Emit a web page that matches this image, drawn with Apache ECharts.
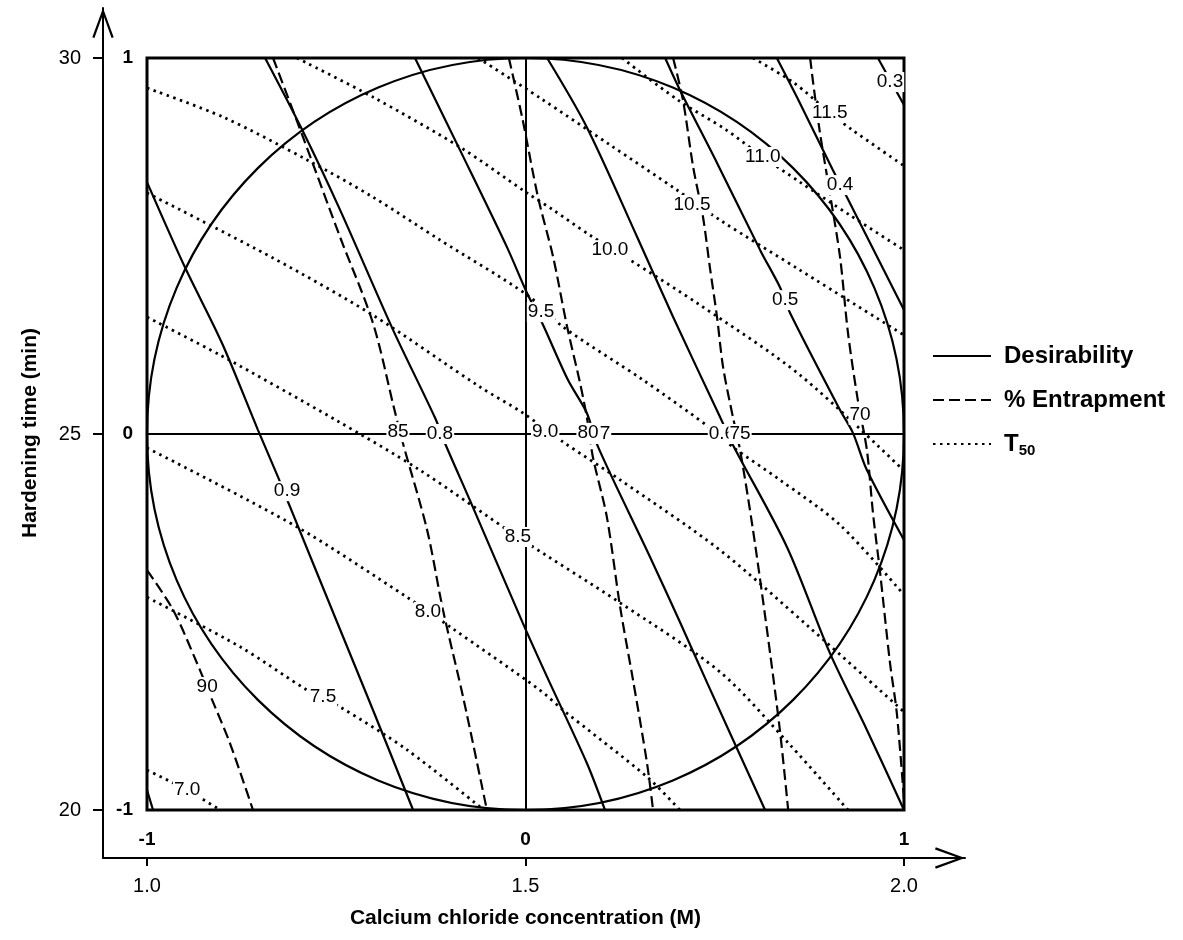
<!DOCTYPE html>
<html>
<head>
<meta charset="utf-8">
<script src="https://cdn.jsdelivr.net/npm/echarts@6/dist/echarts.min.js"></script>
<style>
html, body { margin: 0; padding: 0; background: #fff; }
#chart { width: 1183px; height: 940px; }
</style>
</head>
<body>
<div id="chart"></div>
<script>
// axis ticks
var codedTicks = [-1, 0, 1];
var concTicks = [1.0, 1.5, 2.0];
var timeTicks = [20, 25, 30];

// design region (coded units)
var designCenter = [0, 0];
var designRadius = 1;

// Desirability contours (coded x, coded y)
var d10 = [[-1, -0.947], [-0.984, -1]];
var d09 = [[-1, 0.670], [-0.900, 0.444], [-0.802, 0.242], [-0.707, 0.011], [-0.654, -0.114], [-0.622, -0.194], [-0.498, -0.500], [-0.403, -0.734], [-0.297, -1]];
var d08 = [[-0.688, 1], [-0.590, 0.809], [-0.490, 0.596], [-0.350, 0.277], [-0.239, 0.043], [-0.213, -0.024], [-0.147, -0.176], [-0.007, -0.503], [0.057, -0.646], [0.162, -0.875], [0.210, -1]];
var d07 = [[-0.292, 1], [-0.173, 0.755], [-0.049, 0.497], [0.004, 0.375], [0.044, 0.295], [0.112, 0.144], [0.162, 0.056], [0.192, -0.035], [0.329, -0.327], [0.408, -0.500], [0.480, -0.662], [0.633, -1]];
var d06 = [[0.057, 1], [0.162, 0.816], [0.295, 0.524], [0.390, 0.311], [0.514, 0.045], [0.548, -0.029], [0.691, -0.301], [0.804, -0.582], [0.902, -0.787], [1, -1]];
var d05 = [[0.369, 1], [0.408, 0.915], [0.506, 0.721], [0.620, 0.489], [0.672, 0.391], [0.699, 0.322], [0.831, 0.064], [0.865, 0.003], [0.902, -0.096], [1, -0.282]];
var d04 = [[0.664, 1], [0.717, 0.896], [0.812, 0.702], [0.849, 0.630], [1, 0.330]];
var d03 = [[0.931, 1], [1, 0.875]];
var desirLabels = [[-0.630, -0.152, '0.9'], [-0.226, 0, '0.8'], [0.189, 0, '0.7'], [0.519, 0, '0.6'], [0.686, 0.356, '0.5'], [0.831, 0.662, '0.4'], [0.963, 0.936, '0.3']];

// % Entrapment contours
var e90 = [[-1, -0.362], [-0.931, -0.468], [-0.868, -0.609], [-0.828, -0.707], [-0.781, -0.822], [-0.720, -1]];
var e85 = [[-0.667, 1], [-0.588, 0.790], [-0.490, 0.524], [-0.403, 0.295], [-0.345, 0.059], [-0.324, -0.024], [-0.260, -0.255], [-0.218, -0.468], [-0.165, -0.699], [-0.102, -1]];
var e80 = [[-0.044, 1], [-0.009, 0.843], [0.033, 0.630], [0.073, 0.471], [0.110, 0.285], [0.144, 0.136], [0.162, 0.045], [0.178, -0.061], [0.215, -0.221], [0.250, -0.460], [0.284, -0.654], [0.321, -0.875], [0.337, -1]];
var e75 = [[0.390, 1], [0.416, 0.888], [0.443, 0.710], [0.469, 0.577], [0.487, 0.444], [0.506, 0.311], [0.522, 0.178], [0.548, 0.045], [0.567, -0.043], [0.601, -0.255], [0.638, -0.521], [0.672, -0.787], [0.694, -1]];
var e70 = [[0.752, 1], [0.760, 0.934], [0.778, 0.801], [0.804, 0.641], [0.831, 0.471], [0.852, 0.269], [0.878, 0.090], [0.902, -0.043], [0.918, -0.210], [0.937, -0.370], [0.963, -0.609], [0.981, -0.742], [1, -0.973]];
var entrapLabels = [[-0.841, -0.673, '90'], [-0.337, 0.005, '85'], [0.165, 0.003, '80'], [0.567, 0, '75'], [0.884, 0.051, '70']];

// T50 contours
var t70 = [[-1, -0.894], [-0.894, -0.947], [-0.807, -1]];
var t75 = [[-1, -0.434], [-0.754, -0.566], [-0.577, -0.681], [-0.490, -0.726], [-0.313, -0.840], [-0.110, -1]];
var t80 = [[-1, -0.037], [-0.604, -0.247], [-0.313, -0.434], [-0.199, -0.513], [0.038, -0.681], [0.099, -0.734], [0.321, -0.912], [0.408, -1]];
var t85 = [[-1, 0.311], [-0.807, 0.210], [-0.501, 0.037], [-0.279, -0.096], [-0.020, -0.274], [0.250, -0.449], [0.514, -0.633], [0.699, -0.827], [0.852, -1]];
var t90 = [[-1, 0.641], [-0.667, 0.468], [-0.403, 0.316], [-0.120, 0.125], [-0.007, 0.056], [0.099, -0.021], [0.250, -0.122], [0.514, -0.309], [0.752, -0.516], [1, -0.739]];
var t95 = [[-1, 0.920], [-0.799, 0.843], [-0.577, 0.729], [-0.403, 0.630], [-0.226, 0.516], [0.004, 0.370], [0.099, 0.285], [0.310, 0.144], [0.495, 0.011], [0.548, -0.035], [0.672, -0.122], [0.831, -0.242], [1, -0.428]];
var t100 = [[-0.604, 1], [-0.403, 0.896], [-0.173, 0.763], [0.004, 0.641], [0.073, 0.596], [0.170, 0.529], [0.276, 0.463], [0.461, 0.343], [0.725, 0.157], [1, -0.098]];
var t105 = [[-0.125, 1], [0.038, 0.894], [0.223, 0.769], [0.400, 0.649], [0.514, 0.569], [0.725, 0.436], [1, 0.263]];
var t110 = [[0.255, 1], [0.403, 0.888], [0.530, 0.809], [0.627, 0.737], [0.725, 0.670], [0.857, 0.582], [1, 0.489]];
var t115 = [[0.601, 1], [0.709, 0.934], [0.804, 0.854], [0.863, 0.809], [1, 0.713]];
var t50Labels = [[-0.894, -0.947, '7.0'], [-0.535, -0.699, '7.5'], [-0.258, -0.473, '8.0'], [-0.020, -0.274, '8.5'], [0.052, 0.005, '9.0'], [0.041, 0.324, '9.5'], [0.223, 0.489, '10.0'], [0.440, 0.609, '10.5'], [0.627, 0.737, '11.0'], [0.804, 0.854, '11.5']];

var font = '"Liberation Sans", Arial, sans-serif';

// layout: inner plot box and outer axes box (px)
var plot = { left: 147, top: 58, width: 757, height: 752 };
var outer = { left: 103, top: 8, right: 965, bottom: 858 };
var concPerPx = (concTicks[2] - concTicks[0]) / plot.width;
var timePerPx = (timeTicks[2] - timeTicks[0]) / plot.height;
var concMin = concTicks[0] - (plot.left - outer.left) * concPerPx;
var concMax = concTicks[2] + (outer.right - plot.left - plot.width) * concPerPx;
var timeMin = timeTicks[0] - (outer.bottom - plot.top - plot.height) * timePerPx;
var timeMax = timeTicks[2] + (plot.top - outer.top) * timePerPx;

var arrow = 'path://M11,0 L22,30 L19.8,30.8 L11,6.5 L2.2,30.8 L0,30 Z';

function contour(name, pts, type, width) {
    return {
        name: name,
        type: 'line',
        xAxisIndex: 0,
        yAxisIndex: 0,
        data: pts,
        symbol: 'none',
        smooth: 0.3,
        silent: true,
        z: 3,
        itemStyle: { color: '#000' },
        lineStyle: { color: '#000', width: width, type: type, cap: 'butt' }
    };
}

function labels(name, list, z) {
    return {
        name: name,
        type: 'scatter',
        xAxisIndex: 0,
        yAxisIndex: 0,
        symbolSize: 1,
        silent: true,
        z: z,
        itemStyle: { color: '#fff', opacity: 0 },
        data: list.map(function (l) { return { value: [l[0], l[1]], name: l[2] }; }),
        label: {
            show: true,
            position: 'inside',
            formatter: '{b}',
            color: '#000',
            opacity: 1,
            textBorderWidth: 0,
            textBorderColor: 'transparent',
            fontSize: 19,
            fontFamily: font,
            backgroundColor: '#fff',
            padding: [1, 1, 0, 1]
        }
    };
}

var series = [];
[d10, d09, d08, d07, d06, d05, d04, d03].forEach(function (l) {
    series.push(contour('Desirability', l, 'solid', 2.2));
});
[e90, e85, e80, e75, e70].forEach(function (l) {
    series.push(contour('% Entrapment', l, [11, 5], 2.2));
});
[t70, t75, t80, t85, t90, t95, t100, t105, t110, t115].forEach(function (l) {
    series.push(contour('T50', l, [2.5, 4.5], 2.8));
});

// coded zero lines
series[0].markLine = {
    silent: true,
    symbol: ['none', 'none'],
    label: { show: false },
    lineStyle: { color: '#000', width: 2, type: 'solid' },
    data: [{ xAxis: 0 }, { yAxis: 0 }]
};

// experimental design circle
series.push({
    name: 'design',
    type: 'custom',
    xAxisIndex: 0,
    yAxisIndex: 0,
    clip: false,
    silent: true,
    z: 3,
    data: [[designCenter[0], designCenter[1], designRadius]],
    renderItem: function (params, api) {
        var c = api.coord([api.value(0), api.value(1)]);
        var s = api.size([api.value(2), api.value(2)]);
        return {
            type: 'ellipse',
            shape: { cx: c[0], cy: c[1], rx: s[0], ry: s[1] },
            style: { fill: 'none', stroke: '#000', lineWidth: 2.2 }
        };
    }
});

series.push(labels('desirLabels', desirLabels, 10));
series.push(labels('entrapLabels', entrapLabels, 11));
series.push(labels('t50Labels', t50Labels, 12));

var chart = echarts.init(document.getElementById('chart'));
chart.setOption({
    animation: false,
    backgroundColor: '#fff',
    grid: [
        { left: plot.left, top: plot.top, width: plot.width, height: plot.height,
          show: true, borderColor: '#000', borderWidth: 3, backgroundColor: 'transparent', z: 4 },
        { left: outer.left, top: outer.top, width: outer.right - outer.left, height: outer.bottom - outer.top }
    ],
    legend: {
        data: ['Desirability', '% Entrapment', 'T50'],
        orient: 'vertical',
        left: 932,
        top: 342,
        padding: 0,
        itemWidth: 58,
        itemHeight: 14,
        itemGap: 16,
        selectedMode: false,
        itemStyle: { color: 'transparent', borderColor: 'transparent', borderWidth: 0, opacity: 0 },
        formatter: function (n) { return n === 'T50' ? '{t|T}{s|50}' : n; },
        textStyle: {
            fontFamily: font,
            fontSize: 24,
            fontWeight: 'bold',
            color: '#000',
            lineHeight: 28,
            padding: [0, 0, 0, 8],
            rich: {
                t: { fontFamily: font, fontSize: 24, fontWeight: 'bold', lineHeight: 28 },
                s: { fontFamily: font, fontSize: 15, fontWeight: 'bold', lineHeight: 14, verticalAlign: 'bottom' }
            }
        }
    },
    xAxis: [
        {
            gridIndex: 0, type: 'value', min: -1, max: 1, interval: 0.5,
            axisLine: { show: false },
            axisTick: { show: true, customValues: codedTicks, length: 8, lineStyle: { color: '#000', width: 2 } },
            axisLabel: { customValues: codedTicks, margin: 20, color: '#000', fontSize: 19, fontWeight: 'bold', fontFamily: font },
            splitLine: { show: true, showMinLine: false, showMaxLine: false, lineStyle: { color: '#d6d6d6', width: 1 } },
            name: 'Calcium chloride concentration (M)',
            nameLocation: 'middle',
            nameGap: 98,
            nameTextStyle: { color: '#000', fontSize: 21, fontWeight: 'bold', fontFamily: font }
        },
        {
            gridIndex: 1, type: 'value', min: concMin, max: concMax,
            axisLine: { show: true, onZero: false, symbol: ['none', arrow], symbolSize: [22, 30], symbolOffset: [0, -15],
                        lineStyle: { color: '#000', width: 2 } },
            axisTick: { show: true, customValues: concTicks, length: 8, lineStyle: { color: '#000', width: 2 } },
            axisLabel: { customValues: concTicks, margin: 18, color: '#000', fontSize: 20, fontFamily: font,
                         formatter: function (v) { return v.toFixed(1); } },
            splitLine: { show: false }
        }
    ],
    yAxis: [
        {
            gridIndex: 0, type: 'value', min: -1, max: 1, interval: 0.5,
            axisLine: { show: false },
            axisTick: { show: true, customValues: codedTicks, length: 8, lineStyle: { color: '#000', width: 2 } },
            axisLabel: { customValues: codedTicks, margin: 14, color: '#000', fontSize: 19, fontWeight: 'bold', fontFamily: font },
            splitLine: { show: true, showMinLine: false, showMaxLine: false, lineStyle: { color: '#d6d6d6', width: 1 } }
        },
        {
            gridIndex: 1, type: 'value', min: timeMin, max: timeMax,
            axisLine: { show: true, onZero: false, symbol: ['none', arrow], symbolSize: [22, 30], symbolOffset: [0, -15],
                        lineStyle: { color: '#000', width: 2 } },
            axisTick: { show: true, customValues: timeTicks, length: 10, lineStyle: { color: '#000', width: 2 } },
            axisLabel: { customValues: timeTicks, margin: 22, color: '#000', fontSize: 20, fontFamily: font },
            splitLine: { show: false },
            name: 'Hardening time (min)',
            nameLocation: 'middle',
            nameGap: 62,
            nameRotate: 90,
            nameTextStyle: { color: '#000', fontSize: 21, fontWeight: 'bold', fontFamily: font }
        }
    ],
    series: series
});
</script>
</body>
</html>
